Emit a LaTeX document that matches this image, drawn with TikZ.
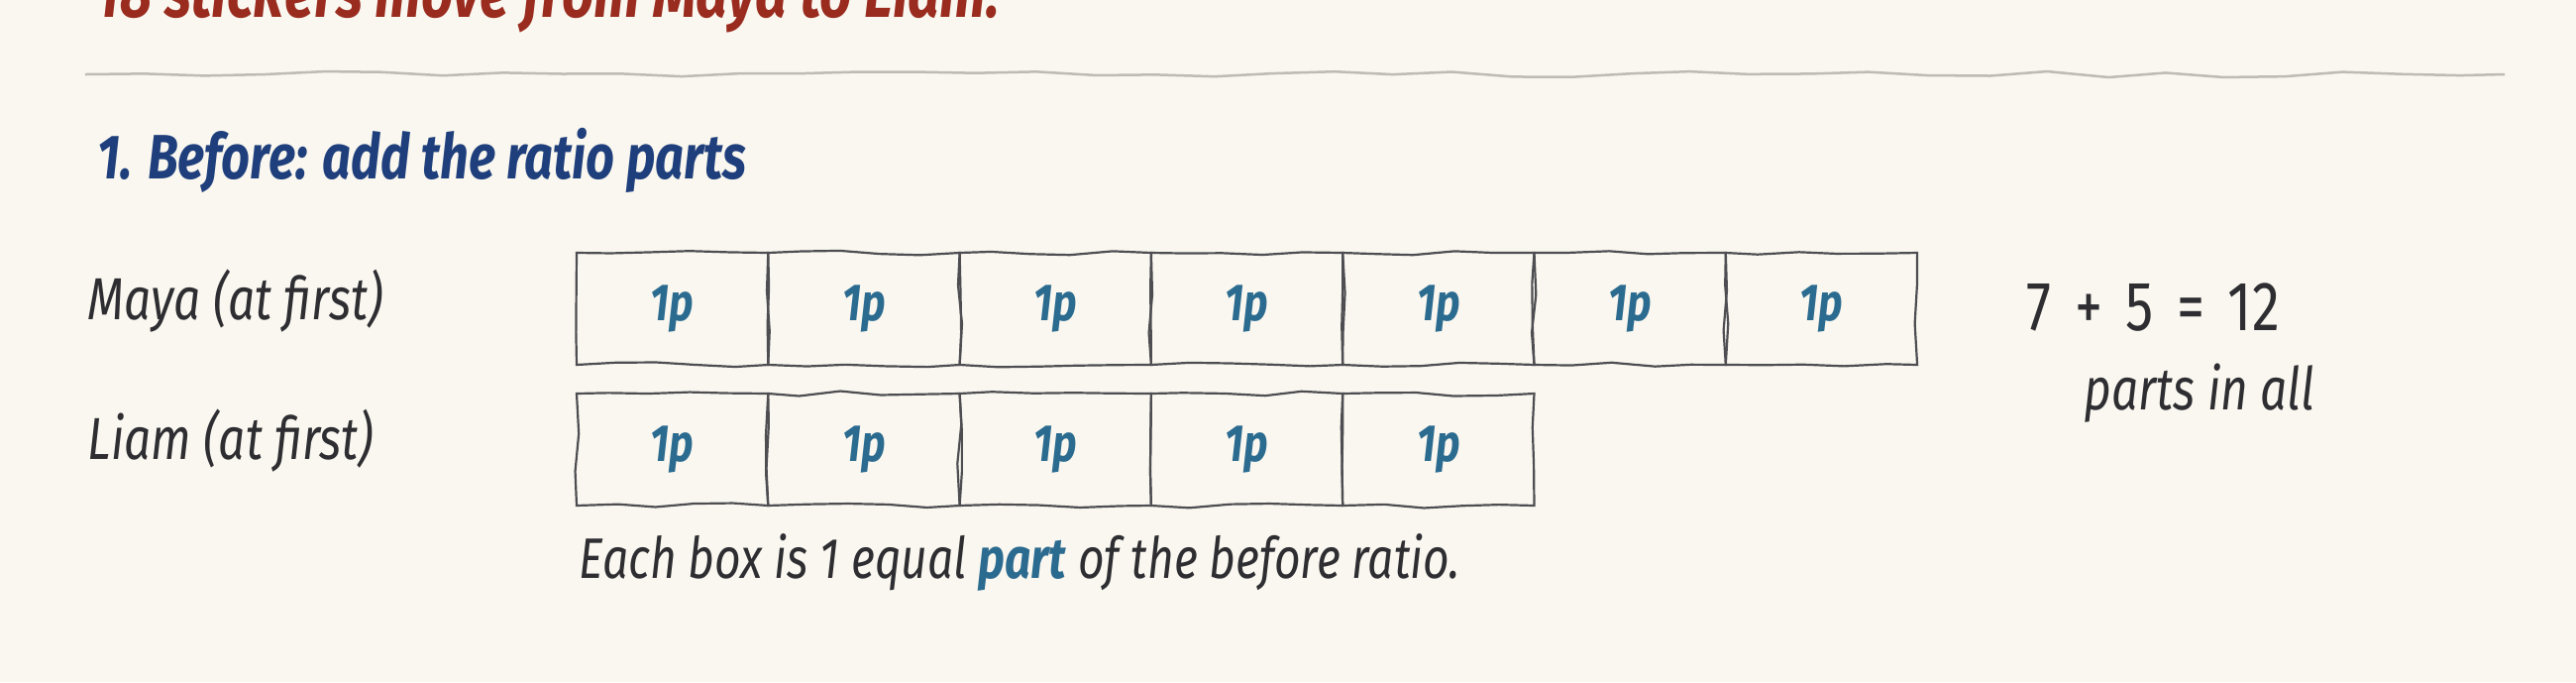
\documentclass[tikz,border=0pt]{standalone}
\usepackage{fontspec}
\setmainfont{Fira Sans}
\newfontfamily\handfont[FakeStretch=0.8]{Fira Sans}
\usetikzlibrary{decorations.pathmorphing}
\definecolor{paper}{HTML}{F9F7EF}
\definecolor{inkred}{HTML}{9A2B1F}
\definecolor{inkhead}{HTML}{1F3F7C}
\definecolor{inkpart}{HTML}{2C6B90}
\definecolor{ink}{HTML}{2E2D31}
\definecolor{pencil}{HTML}{4E4D52}
\definecolor{rulegrey}{HTML}{BDBBB5}
\begin{document}
\begin{tikzpicture}[x=0.1mm, y=-0.1mm,
    txt/.style = {anchor=base west, inner sep=0pt, text=ink, font=\handfont\itshape\fontsize{17}{20}\selectfont},
    head/.style = {txt, text=inkhead, font=\handfont\bfseries\itshape\fontsize{18}{22}\selectfont},
    box/.style = {draw=pencil, line width=0.22mm, minimum width=19.33mm, minimum height=11.3mm, inner sep=0pt,
        text=inkpart, font=\handfont\bfseries\itshape\fontsize{15}{17}\selectfont,
        decorate, decoration={random steps, segment length=4mm, amplitude=0.25mm}}]
    \pgfmathsetseed{7}
    \fill[paper] (0,0) rectangle (2600,688);
    \clip (0,0) rectangle (2600,688);

    % Titolo e linea
    \node[head, text=inkred, font=\handfont\bfseries\itshape\fontsize{20}{24}\selectfont] (top) at (95,17) {18 stickers move from Maya to Liam.};
    \coordinate (l0) at (86,75);
    \coordinate (l1) at (2528,75);
    \draw[rulegrey, line width=0.25mm, decorate, decoration={random steps, segment length=6mm, amplitude=0.3mm}] (l0) -- (l1);
    \node[head] (h1) at (98,180) {1. Before: add the ratio parts};

    % Etichette
    \node[txt] (maya) at (88,322) {Maya (at first)};
    \node[txt] (liam) at (88,463) {Liam (at first)};

    % Scatole
    \foreach \i in {1,...,7}
        \node[box] (m\i) at ({582+193.3*(\i-0.5)},311.5) {1p};
    \foreach \i in {1,...,5}
        \node[box] (n\i) at ({582+193.3*(\i-0.5)},453.5) {1p};

    \node[txt, font=\handfont\fontsize{20}{24}\selectfont] (sum) at (2045,333) {7\,\,+\,\,5\,\,=\,\,12};
    \node[txt] (all) at (2103,413) {parts in all};
    \node[txt, font=\handfont\itshape\fontsize{16.4}{19}\selectfont] (note) at (584,583)
        {Each box is 1 equal \textcolor{inkpart}{\bfseries part} of the before ratio.};
\end{tikzpicture}
\end{document}
